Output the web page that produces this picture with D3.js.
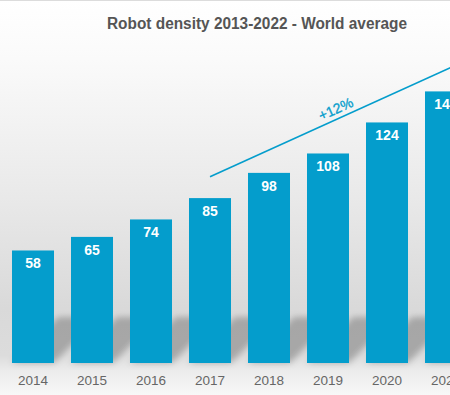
<!DOCTYPE html>
<html>
<head>
<meta charset="utf-8">
<script src="https://cdn.jsdelivr.net/npm/d3@7"></script>
<style>
  html, body { margin: 0; padding: 0; background: #fff; }
  svg { display: block; font-family: "Liberation Sans", Arial, sans-serif; }
</style>
</head>
<body>
<svg id="chart" width="450" height="395"></svg>
<script>
// data
var years = ["2014", "2015", "2016", "2017", "2018", "2019", "2020", "2021"];
var density = [58, 65, 74, 85, 98, 108, 124, 140];
// growth arrow annotation (year, value)
var trendYears = [2017, 2022];
var trendValues = [96, 165];
var trendLabel = "+12%";
var title = "Robot density 2013-2022 - World average";

var svg = d3.select("#chart"),
    width = +svg.attr("width"),
    height = +svg.attr("height");

var base = 363;
var blue = "#049dcc";

var x = d3.scaleBand()
    .domain(years)
    .range([3.5, 475.5])
    .paddingInner(0.288)
    .paddingOuter(0.144);

var y = d3.scaleLinear()
    .domain([0, 160])
    .range([base, base - 160 * 1.94]);

var defs = svg.append("defs");
var grad = defs.append("linearGradient")
    .attr("id", "bg").attr("x1", 0).attr("y1", 0).attr("x2", 0).attr("y2", 1);
[[0, "#ffffff"], [0.15, "#fafafa"], [0.5, "#e9e9e9"], [0.78, "#d9d9d9"],
 [0.9, "#dcdcdc"], [0.94, "#ececec"], [1, "#f8f8f8"]].forEach(function(s) {
    grad.append("stop").attr("offset", s[0]).attr("stop-color", s[1]);
});
defs.append("filter").attr("id", "blur")
    .attr("x", "-50%").attr("y", "-50%").attr("width", "200%").attr("height", "200%")
    .append("feGaussianBlur").attr("stdDeviation", 3);

svg.append("rect").attr("width", width).attr("height", height).attr("fill", "url(#bg)");
svg.append("line").attr("x1", 0).attr("x2", width).attr("y1", 0.5).attr("y2", 0.5)
    .attr("stroke", "#dcdcdc");

// floor shadows
var sh = 46;
svg.append("g").attr("filter", "url(#blur)")
  .selectAll("polygon")
  .data(years)
  .enter().append("polygon")
    .attr("points", function(d) {
        var x0 = x(d), x1 = x(d) + x.bandwidth();
        return [[x0, base], [x1, base], [x1 + sh, base - sh], [x0 + sh, base - sh]].join(" ");
    })
    .attr("fill", "#000")
    .attr("opacity", 0.24);

// bars
svg.selectAll(".bar")
    .data(years)
    .enter().append("rect")
    .attr("class", "bar")
    .attr("x", function(d) { return x(d); })
    .attr("y", function(d, i) { return y(density[i]); })
    .attr("width", x.bandwidth())
    .attr("height", function(d, i) { return base - y(density[i]); })
    .attr("fill", blue);

svg.selectAll(".val")
    .data(years)
    .enter().append("text")
    .attr("class", "val")
    .attr("x", function(d) { return x(d) + x.bandwidth() / 2; })
    .attr("y", function(d, i) { return y(density[i]) + 18; })
    .attr("text-anchor", "middle")
    .attr("fill", "#fff")
    .attr("font-weight", "bold")
    .attr("font-size", 14)
    .text(function(d, i) { return density[i]; });

// x axis labels
svg.selectAll(".yr")
    .data(years)
    .enter().append("text")
    .attr("class", "yr")
    .attr("x", function(d) { return x(d) + x.bandwidth() / 2; })
    .attr("y", 385)
    .attr("text-anchor", "middle")
    .attr("fill", "#666")
    .attr("font-size", 13.5)
    .text(function(d) { return d; });

// trend line
function xc(yr) {
    return x(years[0]) + (yr - +years[0]) * x.step() + x.bandwidth() / 2;
}
var p0 = [xc(trendYears[0]), y(trendValues[0])],
    p1 = [xc(trendYears[1]), y(trendValues[1])];
svg.append("line")
    .attr("x1", p0[0]).attr("y1", p0[1])
    .attr("x2", p1[0]).attr("y2", p1[1])
    .attr("stroke", blue)
    .attr("stroke-width", 1.6);

var ang = Math.atan2(p1[1] - p0[1], p1[0] - p0[0]);
var t = 0.44,
    lx = p0[0] + (p1[0] - p0[0]) * t,
    ly = p0[1] + (p1[1] - p0[1]) * t;
svg.append("text")
    .attr("transform", "translate(" + lx + "," + ly + ") rotate(" + (ang * 180 / Math.PI) + ") translate(0,-5)")
    .attr("text-anchor", "middle")
    .attr("fill", blue)
    .attr("font-size", 14)
    .attr("stroke", blue)
    .attr("stroke-width", 0.3)
    .text(trendLabel);

// title
svg.append("text")
    .attr("x", 257)
    .attr("y", 28.5)
    .attr("text-anchor", "middle")
    .attr("fill", "#555")
    .attr("font-weight", "bold")
    .attr("font-size", 16)
    .attr("textLength", 300)
    .attr("lengthAdjust", "spacingAndGlyphs")
    .text(title);
</script>
</body>
</html>
